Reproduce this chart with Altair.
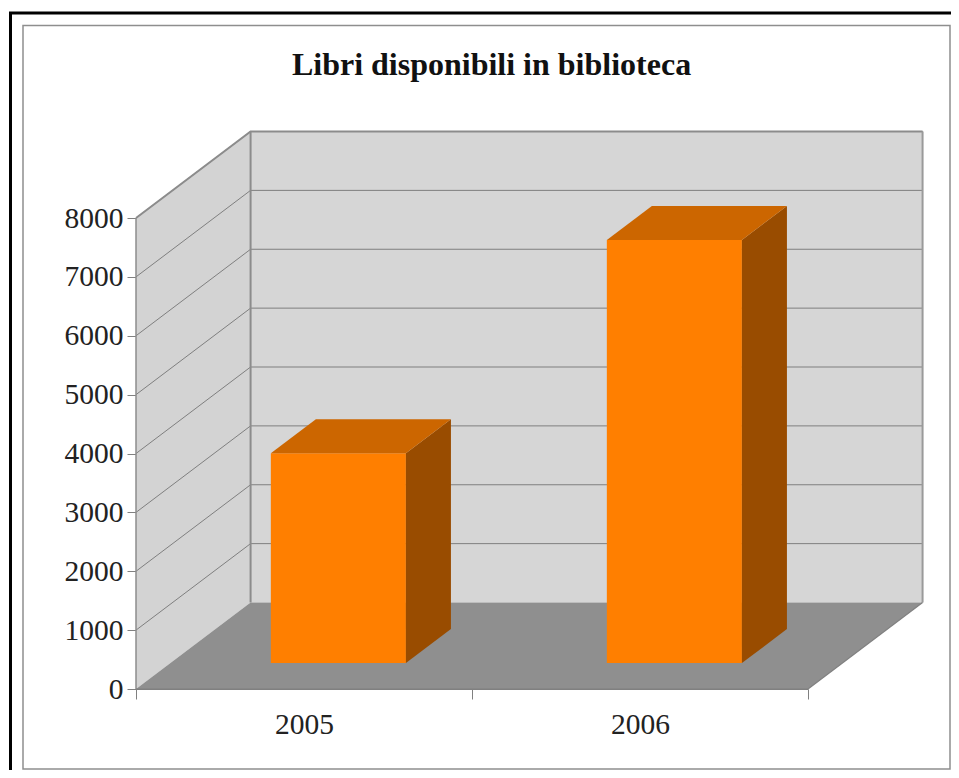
import altair as alt
import pandas as pd

TITLE = "Libri disponibili in biblioteca"
YEARS = ["2005", "2006"]
BOOKS = [3565, 7185]
TICKS = [0, 1000, 2000, 3000, 4000, 5000, 6000, 7000, 8000]

# depth projection, in data units: one full depth of the box
DX = 0.341
DY = 1469
BAR_W = 0.402
BAR_D0 = 0.30
BAR_D1 = 0.693
N = len(YEARS)
FONT = "Liberation Serif"

xs = alt.Scale(domain=[0, N], nice=False, zero=False)
ys = alt.Scale(domain=[0, 8000], nice=False, zero=False)
label_expr = "datum.value == 0.5 ? '%s' : datum.value == 1.5 ? '%s' : ''" % tuple(YEARS)
x_axis = alt.Axis(
    values=[0, 0.5, 1, 1.5, 2], labelExpr=label_expr, grid=False,
    tickSize=10, tickColor="#808080", domainColor="#808080",
    tickOpacity=alt.condition("datum.value == 0.5 || datum.value == 1.5", alt.value(0), alt.value(1)),
    labelFont=FONT, labelFontSize=29.5, labelColor="#222222", labelPadding=11, labelAngle=0,
    labelFlush=False, labelOverlap=False)
y_axis = alt.Axis(
    values=TICKS, format="d", grid=False, tickSize=9, tickColor="#808080", domainColor="#808080",
    labelFont=FONT, labelFontSize=29.5, labelColor="#222222", labelPadding=4, labelOverlap=False)
X = alt.X("x:Q", scale=xs, title=None, axis=x_axis)
Y = alt.Y("y:Q", scale=ys, title=None, axis=y_axis)
Y2 = alt.Y2("y2:Q")


def area(points, color):
    df = pd.DataFrame(points, columns=["x", "y", "y2"])
    return alt.Chart(df).mark_area(color=color, opacity=1, interpolate="linear").encode(x=X, y=Y, y2=Y2)


def line(points, color="#8c8c8c", width=1.2):
    df = pd.DataFrame(points, columns=["x", "y"])
    df["o"] = range(len(df))
    return alt.Chart(df).mark_line(color=color, strokeWidth=width, interpolate="linear").encode(
        x=X, y=Y, order=alt.Order("o:Q"))


def slanted(x0, x1, y, ddx, ddy, color):
    """Top or floor face: parallelogram from a front edge going back by (ddx, ddy)."""
    return area([(x0, y, y), (x0 + ddx, y, y + ddy), (x1, y, y + ddy), (x1 + ddx, y + ddy, y + ddy)], color)


def frame(x, x2, y, y2, color, width):
    d = pd.DataFrame({"a": [0]})
    return alt.Chart(d).mark_rect(filled=False, stroke=color, strokeWidth=width).encode(
        x=alt.value(x), x2=alt.value(x2), y=alt.value(y), y2=alt.value(y2))


layers = [
    frame(-125.5, 900, -205, 700, "#000000", 3),
    frame(-113, 814, -192.5, 551, "#8e8e8e", 1.5),
    # walls
    area([(0, 0, 8000), (DX, DY, 8000 + DY)], "#d3d3d3"),
    area([(DX, DY, 8000 + DY), (N + DX, DY, 8000 + DY)], "#d6d6d6"),
    slanted(0, N, 0, DX, DY, "#8f8f8f"),
]
for t in TICKS[1:]:
    layers.append(line([(0, t), (DX, t + DY), (N + DX, t + DY)], "#7f7f7f", 1.0))
layers += [
    line([(0, 8000), (DX, 8000 + DY), (N + DX, 8000 + DY)], "#8c8c8c", 2),
    line([(0, 0), (0, 8000)], "#8c8c8c", 1.5),
    line([(DX, DY), (DX, 8000 + DY)], "#8c8c8c", 2),
    line([(N + DX, DY), (N + DX, 8000 + DY)], "#9a9a9a", 2),
    line([(N, 0), (N + DX, DY)], "#808080", 1.2),
    line([(0, 0), (N, 0)], "#808080", 1.2),
]
for i, v in enumerate(BOOKS):
    x0 = i + 0.5 - BAR_W / 2 + BAR_D0 * DX
    x1 = x0 + BAR_W
    y0 = BAR_D0 * DY
    ddx = (BAR_D1 - BAR_D0) * DX
    ddy = (BAR_D1 - BAR_D0) * DY
    layers += [
        area([(x0, y0, y0 + v), (x1, y0, y0 + v)], "#ff7f00"),
        area([(x1, y0, y0 + v), (x1 + ddx, y0 + ddy, y0 + ddy + v)], "#994c00"),
        slanted(x0, x1, y0 + v, ddx, ddy, "#cc6600"),
    ]

title = alt.Chart(pd.DataFrame({"t": [TITLE]})).mark_text(
    font=FONT, fontSize=32, fontWeight="bold", color="#111111", align="center", baseline="middle"
).encode(x=alt.value(355.5), y=alt.value(-153), text="t:N")

chart = alt.layer(*layers, title).properties(
    width=672, height=471,
    padding={"left": 128, "top": 210, "right": 143, "bottom": 81},
    autosize=alt.AutoSizeParams(type="none"),
    background="#ffffff",
).configure_view(stroke=None)

chart.save("out.html", embed_options={"renderer": "svg", "actions": False})
